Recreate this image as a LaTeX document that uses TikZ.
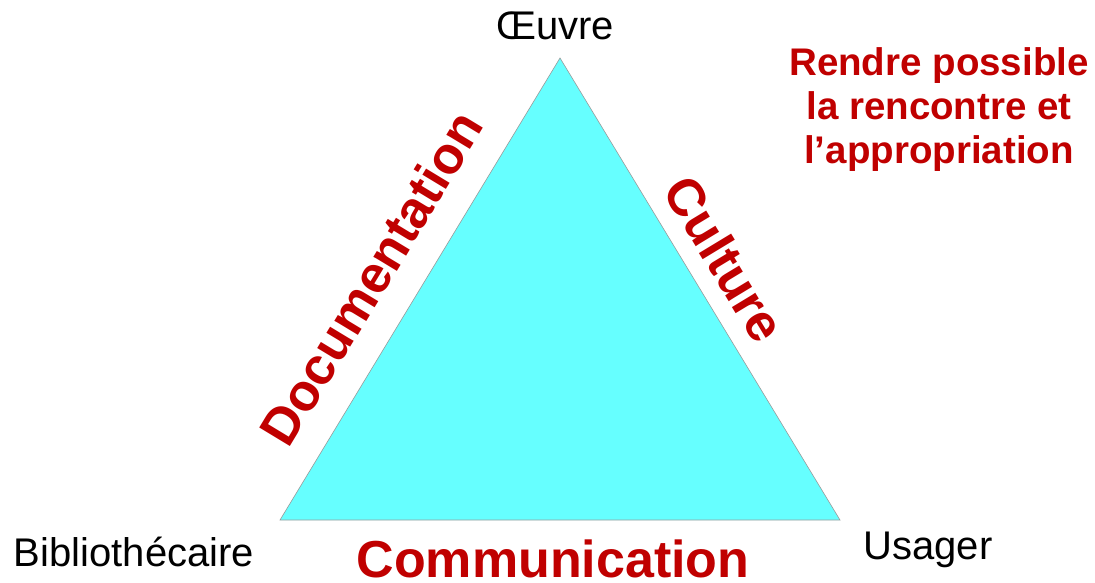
\documentclass[tikz,border=0pt]{standalone}
\usepackage{fontspec}
\setmainfont{Liberation Sans}
\definecolor{tri}{HTML}{66FFFF}
\definecolor{lab}{HTML}{C00000}
\begin{document}
\begin{tikzpicture}[x=1pt,y=-1pt,
  vlabel/.style={font=\fontsize{40}{46}\selectfont, text=black, inner sep=0pt},
  elabel/.style={font=\fontsize{52}{60}\selectfont\bfseries, text=lab, inner sep=0pt},
  note/.style={font=\fontsize{38.5}{44}\selectfont\bfseries, text=lab, inner sep=0pt, align=center}]
\useasboundingbox (0,0) rectangle (1095,582);
\coordinate (top) at (560,58);
\coordinate (bl) at (280,520);
\coordinate (br) at (840,520);
\fill[tri] (top) -- (bl) -- (br) -- cycle;
\draw[gray!80, line width=0.6pt] (top) -- (bl) -- (br) -- cycle;
\node[vlabel] (oeuvre) at (555,26) {Œuvre};
\node[vlabel] (biblio) at (134,552) {Bibliothécaire};
\node[vlabel] (usager) at (928,550) {Usager};
\node[elabel] (comm) at (553,559) {Communication};
\node[elabel, rotate=58.8] (doc) at (371,278) {Documentation};
\node[elabel, rotate=-58.8] (cult) at (725,259) {Culture};
\node[note] (rendre) at (939,110) {Rendre possible\\la rencontre et\\l’appropriation};
\end{tikzpicture}
\end{document}
